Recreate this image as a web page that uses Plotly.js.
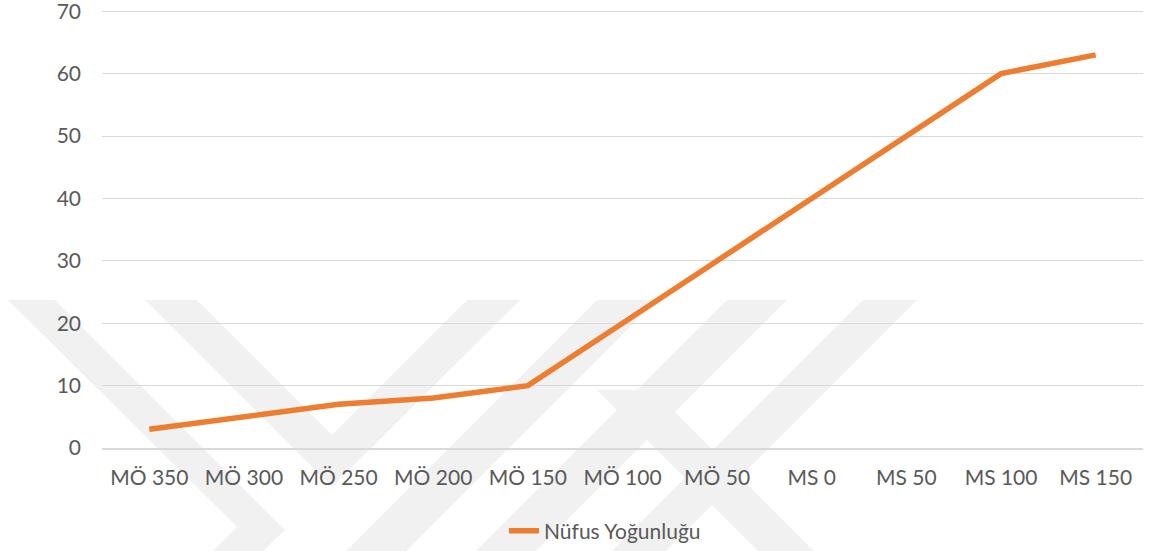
<!DOCTYPE html>
<html>
<head>
<meta charset="utf-8">
<script src="https://cdn.plot.ly/plotly-3.0.1.min.js"></script>
<style>html,body{margin:0;padding:0;background:#fff;}#chart{width:1152px;height:551px;}</style>
</head>
<body>
<div id="chart"></div>
<script>
const categories = ["MÖ 350","MÖ 300","MÖ 250","MÖ 200","MÖ 150","MÖ 100","MÖ 50","MS 0","MS 50","MS 100","MS 150"];
const density = [3, 5, 7, 8, 10, 20, 30, 40, 50, 60, 63];
const seriesName = "Nüfus Yoğunluğu";
const yTicks = [0, 10, 20, 30, 40, 50, 60, 70];

// plot-area geometry (px)
const L = 102, R = 9, T = 5, B = 103, W = 1152, H = 551;
const PW = W - L - R, PH = H - T - B;
function toPaper(pts){
  return pts.map((p,i)=>(i?'L':'M') + ((p[0]-L)/PW).toFixed(4) + ',' + ((H-B-p[1])/PH).toFixed(4)).join(' ') + ' Z';
}
// background watermark (decoration)
const wm = [
  [[8,300],[55,300],[285,530],[263,551],[213,551],[237,527]],
  [[145,300],[197,300],[332,435],[467,300],[520,300],[332,487]],
  [[597,300],[657,300],[406,551],[346,551]],
  [[727,300],[787,300],[536,551],[476,551]],
  [[863,300],[917,300],[666,551],[612,551]],
  [[597,390],[653,390],[814,551],[758,551]]
];
const shapes = wm.map(p=>({type:'path', xref:'paper', yref:'paper', path:toPaper(p),
  fillcolor:'#f1f1f1', line:{width:0}, layer:'below'}));

const trace = {
  x: categories, y: density, type:'scatter', mode:'lines', name: seriesName,
  line:{color:'#ED7D31', width:5.5, shape:'linear'}
};
const layout = {
  width: W, height: H,
  margin:{l:L, r:R, t:T, b:B},
  paper_bgcolor:'rgba(0,0,0,0)', plot_bgcolor:'rgba(0,0,0,0)',
  font:{family:'Lato, "Open Sans", sans-serif', size:21, color:'#595959'},
  showlegend:true,
  legend:{orientation:'h', xref:'container', yref:'container', x:605/W, y:1-531/H, xanchor:'center', yanchor:'middle',
    font:{size:21, color:'#595959'}, bgcolor:'rgba(0,0,0,0)'},
  xaxis:{type:'category', range:[-0.5, categories.length-0.5], showgrid:false, zeroline:false, showline:true, linecolor:'#d9d9d9', linewidth:2,
    ticks:'', ticklabelstandoff:10, tickfont:{size:21, color:'#595959'}, fixedrange:true},
  yaxis:{range:[0,71], tickvals:yTicks, showgrid:true, gridcolor:'#d9d9d9', gridwidth:1, zeroline:false,
    showline:false, ticks:'', ticklabelstandoff:20, ticklabeloverflow:'allow', tickfont:{size:21, color:'#595959'}, fixedrange:true},
  shapes: shapes
};
Plotly.newPlot('chart', [trace], layout, {staticPlot:true, displayModeBar:false});
</script>
</body>
</html>
